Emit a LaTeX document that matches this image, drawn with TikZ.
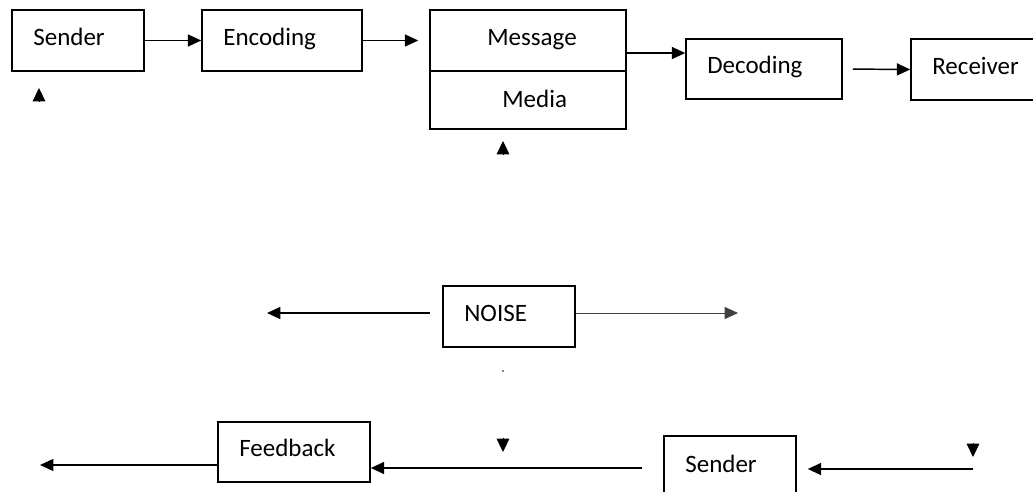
\documentclass[tikz,border=0pt]{standalone}
\usepackage{fontspec}
\setmainfont{Carlito}
\usepackage{tikz}
\usetikzlibrary{arrows.meta}

\begin{document}
\begin{tikzpicture}[x=0.75pt, y=-0.75pt,
  box/.style={draw, line width=1.2pt, inner xsep=16pt, align=left,
    text height=12pt, text depth=5pt,
    font=\fontsize{18.75pt}{22pt}\selectfont},
  arr/.style={-{Triangle[length=10pt,width=9pt]}, line width=1.1pt},
  tip/.style={-{Triangle[length=10pt,width=9.5pt]}, line width=0.6pt}]
\useasboundingbox (0,0) rectangle (1033,492);
\clip (0,0) rectangle (1033,492);
% top row
\node[box, text width=67pt, minimum height=45.75pt] (sndr) at (78,40.5) {Sender};
\node[box, text width=88pt, minimum height=45.75pt] (enc) at (282,40.5) {Encoding};
\node[box, align=center, text width=115pt, minimum height=45.75pt] (msg) at (528,40.5) {\hspace{6pt}Message};
\node[box, align=center, text width=115pt, minimum height=43.5pt,
  text height=14pt, text depth=2pt] (med) at (528,100) {\hspace{10pt}Media};
\node[box, text width=85pt, minimum height=45pt] (dec) at (764,69) {Decoding};
\node[box, text width=68.5pt, minimum height=45.75pt] (rcv) at (978,69.5) {Receiver};
\draw[arr] (sndr.east) -- (sndr.east -| enc.west);
\draw[arr, shorten >=8.25pt] (enc.east) -- (enc.east -| msg.west);
\coordinate (m1) at ([yshift=-9.4pt]msg.east);
\draw[arr] (m1) -- (m1 -| dec.west);
\draw[arr, shorten <=7.5pt] (dec.east) -- (rcv.west);
\coordinate (up1) at (39,102);
\draw[tip] (up1) -- ++(0,-14);
\coordinate (up2) at (503,155);
\draw[tip] (up2) -- ++(0,-14);
% noise
\node[box, text width=67pt, minimum height=45.75pt] (noise) at (509,316.5) {NOISE};
\coordinate (nl) at (267,313);
\coordinate (nr) at (738,313);
\draw[arr, shorten <=9pt] (noise.west |- nl) -- (nl);
\draw[arr, line width=0.7pt, black!75] (noise.east |- nr) -- (nr);
\fill (503,371) circle (0.6pt);
% feedback row
\node[box, text width=82pt, minimum height=45pt] (fb) at (294,452) {Feedback};
\node[box, text width=67pt, minimum height=48pt] (snd2) at (730,468) {Sender};
\coordinate (fl) at (40,465);
\draw[arr] (fb.west |- fl) -- (fl);
\coordinate (s1) at ([xshift=-15.75pt]snd2.west);
\draw[arr] (s1) -- (s1 -| fb.east);
\coordinate (sr) at (973,469);
\draw[arr, shorten >=8.25pt] (sr) -- (sr -| snd2.east);
\coordinate (dn1) at (503,438);
\draw[tip] (dn1) -- ++(0,14);
\coordinate (dn2) at (973,443);
\draw[tip] (dn2) -- ++(0,14);
\end{tikzpicture}
\end{document}
